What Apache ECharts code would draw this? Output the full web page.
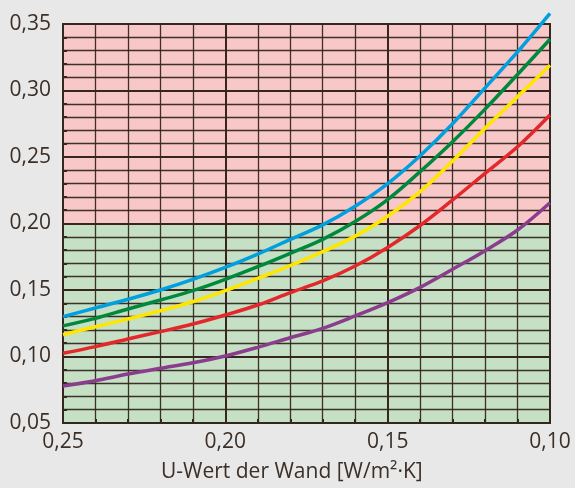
<!DOCTYPE html>
<html>
<head>
<meta charset="utf-8">
<script src="https://cdn.jsdelivr.net/npm/echarts@6/dist/echarts.min.js"></script>
<style>
html,body{margin:0;padding:0;background:#e8e8e8;}
#c{width:575px;height:488px;}
</style>
</head>
<body>
<div id="c"></div>
<script>
// U-value of the wall (x axis, reversed)
const uWert = [0.25,0.24,0.23,0.22,0.21,0.20,0.19,0.18,0.17,0.16,0.15,0.14,0.13,0.12,0.11,0.10];
const blau   = [0.130,0.1365,0.143,0.150,0.158,0.167,0.177,0.188,0.199,0.213,0.230,0.251,0.275,0.302,0.329,0.358];
const gruen  = [0.123,0.1287,0.1357,0.1425,0.1495,0.158,0.1675,0.1776,0.1881,0.2015,0.218,0.239,0.2615,0.286,0.312,0.3385];
const gelb   = [0.1164,0.1224,0.1282,0.1344,0.1412,0.1495,0.1588,0.1683,0.1788,0.1905,0.2055,0.224,0.247,0.2716,0.2953,0.319];
const rot    = [0.1024,0.1074,0.1132,0.1187,0.1244,0.1312,0.1387,0.148,0.1568,0.168,0.182,0.1985,0.2177,0.2377,0.2577,0.2816];
const lila   = [0.0778,0.0818,0.0868,0.0911,0.0953,0.1004,0.1069,0.1141,0.1212,0.1305,0.1405,0.152,0.1656,0.1796,0.1951,0.2156];
const zoneLimits = [0.05, 0.20, 0.35];
const xTicks = [0.25, 0.20, 0.15, 0.10];
const yTicks = [0.05, 0.10, 0.15, 0.20, 0.25, 0.30, 0.35];
const xName = 'U-Wert der Wand [W/m²·K]';

const fmt = v => v.toFixed(2).replace('.', ',');
const pairs = arr => uWert.map((u, i) => [u, arr[i]]);
const txt = '#3b2f27';
const gridC = '#35271d';

const lineSeries = [
  {d: lila, c: '#8b3d8d'},
  {d: rot, c: '#e3282b'},
  {d: gelb, c: '#ffe600'},
  {d: gruen, c: '#00893d'},
  {d: blau, c: '#009fe0'}
].map(s => ({
  type: 'line', data: pairs(s.d), smooth: 0.35, showSymbol: false, clip: false,
  lineStyle: {color: s.c, width: 3.5}, z: 20, animation: false
}));

const axisCommon = {
  z: 10,
  axisLine: {show: true, lineStyle: {color: gridC, width: 2}},
  axisTick: {show: true, inside: true, length: 4, lineStyle: {color: gridC, width: 2}},
  minorTick: {show: true, splitNumber: 5, length: 4, lineStyle: {color: gridC, width: 2}},
  splitLine: {show: true, lineStyle: {color: gridC, width: 2}},
  minorSplitLine: {show: true, lineStyle: {color: gridC, width: 1.3, opacity: 0.95}}
};

const chart = echarts.init(document.getElementById('c'), null, {renderer: 'canvas'});
chart.setOption({
  backgroundColor: '#e8e8e8',
  animation: false,
  grid: {left: 63, right: 25, top: 24, bottom: 65, show: true, z: 10, borderColor: gridC, borderWidth: 2, backgroundColor: 'transparent'},
  xAxis: Object.assign({
    type: 'value', inverse: true, min: xTicks[xTicks.length-1], max: xTicks[0], interval: 0.05,
    axisLabel: {formatter: fmt, color: txt, fontSize: 21, fontFamily: 'Open Sans', margin: 9}
  }, axisCommon),
  yAxis: Object.assign({
    type: 'value', min: yTicks[0], max: yTicks[yTicks.length-1], interval: 0.05,
    axisLabel: {formatter: fmt, color: txt, fontSize: 21, fontFamily: 'Open Sans', margin: 12}
  }, axisCommon),
  graphic: [{
    type: 'text', left: 161, top: 462,
    style: {text: xName, fill: txt, font: '21px "Open Sans"'}
  }],
  series: [{
    type: 'line', data: [[uWert[0], zoneLimits[0]]], showSymbol: false, lineStyle: {opacity: 0},
    z: 1, silent: true,
    markArea: {
      silent: true,
      data: [
        [{yAxis: zoneLimits[0], itemStyle: {color: '#c5e0c5'}}, {yAxis: zoneLimits[1]}],
        [{yAxis: zoneLimits[1], itemStyle: {color: '#f8c8c8'}}, {yAxis: zoneLimits[2]}]
      ]
    }
  }].concat(lineSeries)
});
</script>
</body>
</html>
